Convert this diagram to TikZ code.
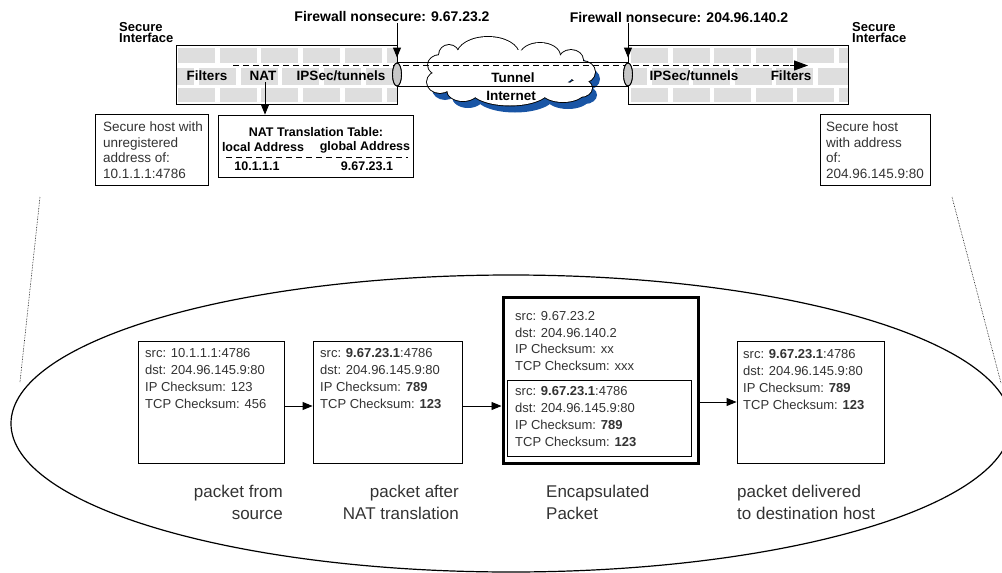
\documentclass[tikz,border=0pt]{standalone}
\usepackage{fontspec}
\setmainfont{Liberation Sans}
\usetikzlibrary{arrows.meta,shapes.geometric}
\definecolor{txtgray}{gray}{0.2}
\definecolor{brick}{gray}{0.87}
\definecolor{ellgray}{gray}{0.78}
\definecolor{cloudblue}{RGB}{25,85,165}
\begin{document}
\begin{tikzpicture}[x=1pt,y=-1pt,
  arr/.style={-{Triangle[length=10pt,width=8pt]}, line width=0.9pt},
  bigarr/.style={-{Triangle[length=14pt,width=10pt]}, line width=1.1pt},
  lbl/.style={font=\fontsize{14}{14}\selectfont\bfseries, inner sep=1pt},
  wlbl/.style={font=\fontsize{13.5}{13.5}\selectfont\bfseries, inner sep=1pt},
  tbl/.style={font=\fontsize{12.5}{12.5}\selectfont\bfseries, inner sep=1pt},
  sif/.style={font=\fontsize{13}{11.5}\selectfont\bfseries, align=left, inner sep=0pt, anchor=north west},
  hostbox/.style={draw, line width=0.8pt, fill=white, inner sep=0pt},
  hosttxt/.style={font=\fontsize{13.5}{15.5}\selectfont, text=txtgray, align=left, inner sep=0pt, anchor=north west},
  pbox/.style={draw, line width=0.9pt, fill=white, inner sep=0pt, minimum height=122pt},
  ptxt/.style={font=\fontsize{13}{17}\selectfont, text=txtgray, align=left, inner sep=0pt, anchor=north west},
  captxt/.style={font=\fontsize{17}{22}\selectfont, text=txtgray, inner sep=0pt},
  pipeend/.style={ellipse, draw, line width=0.9pt, fill=ellgray, minimum width=9pt, minimum height=23pt, inner sep=0pt}
]
\useasboundingbox (0,0) rectangle (1002,573);

% ---------- left wall ----------
\fill[white] (176,45) rectangle (397,104);
\begin{scope}
  \clip (176,45) rectangle (397,104);
  \foreach \i in {0,...,5} {
    \fill[brick] (178+\i*41.7,48) rectangle ++(37,15);
    \fill[brick] (178+\i*41.7,88) rectangle ++(37,13.5);
  }
  \foreach \i in {0,...,6} {
    \fill[brick] (157.2+\i*41.7,68) rectangle ++(37,17);
  }
\end{scope}
\draw[line width=0.9pt] (176,45) rectangle (397,104);

% ---------- right wall ----------
\fill[white] (628,45) rectangle (848,104);
\begin{scope}
  \clip (628,45) rectangle (848,104);
  \foreach \i in {0,...,5} {
    \fill[brick] (631+\i*41.5,48) rectangle ++(37,15);
    \fill[brick] (631+\i*41.5,88) rectangle ++(37,13.5);
  }
  \foreach \i in {0,...,6} {
    \fill[brick] (610+\i*41.5,68) rectangle ++(37,17);
  }
\end{scope}
\draw[line width=0.9pt] (628,45) rectangle (848,104);

% ---------- cloud (union of puffs) ----------
\def\puffs{449/55/10/10, 488/55/31/18, 540/56/20/13, 571/60/12/10,
  582/72/13/11, 580/88/12/9, 563/92/21/10, 510/89/40/16.5, 463/90/16/11,
  440/82/13/11, 440/65/12/10}
\foreach \cx/\cy/\rx/\ry in \puffs {
  \fill[cloudblue] (\cx+5,\cy+7) ellipse [x radius=\rx, y radius=\ry];
}
\fill[cloudblue] (515,79) ellipse [x radius=65, y radius=22];
\foreach \cx/\cy/\rx/\ry in \puffs {
  \draw[line width=1.8pt, fill=white] (\cx,\cy) ellipse [x radius=\rx, y radius=\ry];
}
\foreach \cx/\cy/\rx/\ry in \puffs {
  \fill[white] (\cx,\cy) ellipse [x radius=\rx, y radius=\ry];
}
\fill[white] (510,72) ellipse [x radius=65, y radius=22];

% ---------- tunnel pipe ----------
\node[pipeend] (le) at (397,74.5) {};
\node[pipeend] (re) at (628,74.5) {};
\draw[line width=0.9pt] (le.north) -- (re.north);
\draw[line width=0.9pt] (le.south) -- (re.south);
\coordinate (ds) at (233,65.5);
\coordinate (de) at (808,65.5);
\draw[line width=1.1pt, dash pattern=on 6pt off 4pt] (ds) -- (795,65.5);
\draw[bigarr] (790,65.5) -- (de);
\node[pipeend] at (le) {};
\node[pipeend] at (re) {};

\node[wlbl] (tun) at (513,78) {Tunnel};
\node[wlbl] (inet) at (511,96) {Internet};

% ---------- wall labels ----------
\node[wlbl] (fil1) at (207,76) {Filters};
\node[wlbl] (nat) at (263,76) {NAT};
\node[wlbl] (ips1) at (341,76) {IPSec/tunnels};
\node[wlbl] (ips2) at (694,76) {IPSec/tunnels};
\node[wlbl] (fil2) at (791,76) {Filters};

% ---------- top labels ----------
\node[lbl] (fw1) at (392,17) {Firewall nonsecure: 9.67.23.2};
\node[lbl] (fw2) at (679,17) {Firewall nonsecure: 204.96.140.2};
\draw[arr] (le |- fw1.south) -- ([yshift=5pt]le.north);
\draw[arr] (re |- fw2.south) -- ([yshift=5pt]re.north);

\node[sif] (si1) at (119,22) {Secure\\Interface};
\node[sif] (si2) at (852,22) {Secure\\Interface};

% ---------- NAT table ----------
\node[hostbox, minimum width=195pt, minimum height=62pt] (tab) at (315.5,146) {};
\draw[arr] ([xshift=2pt]nat.south) -- ([xshift=2pt]nat.south |- tab.north);
\node[tbl] (tabt) at (316,132) {NAT Translation Table:};
\node[tbl] (la) at (263,147) {local Address};
\node[tbl] (ga) at (365,147) {global Address};
\draw[line width=0.9pt, dash pattern=on 6pt off 4pt] (226,157) -- (408,157);
\node[tbl] (lv) at (257,166) {10.1.1.1};
\node[tbl] (gv) at (367,166) {9.67.23.1};

% ---------- host boxes ----------
\node[hostbox, minimum width=113pt, minimum height=71pt] (h1) at (151.5,149.5) {};
\node[hosttxt] (h1t) at (103,122) {Secure host with\\unregistered\\address of:\\10.1.1.1:4786};
\node[hostbox, minimum width=110pt, minimum height=71pt] (h2) at (875,149.5) {};
\node[hosttxt] (h2t) at (826,122) {Secure host\\with address\\of:\\204.96.145.9:80};

% ---------- zoom lines ----------
\coordinate (zl1) at (40,197);
\coordinate (zl2) at (20,382);
\coordinate (zr1) at (952,197);
\coordinate (zr2) at (1001,383);
\draw[densely dotted, line width=0.6pt] (zl1) -- (zl2);
\draw[densely dotted, line width=0.6pt] (zr1) -- (zr2);

% ---------- big ellipse ----------
\draw[line width=1.2pt] (511,423.5) ellipse [x radius=500, y radius=148.5];

% ---------- packets ----------
\node[pbox, minimum width=146pt] (p1) at (211,402) {};
\node[ptxt] (t1) at (145,348) {src: 10.1.1.1:4786\\dst: 204.96.145.9:80\\IP Checksum: 123\\TCP Checksum: 456};

\node[pbox, minimum width=149pt] (p2) at (387.5,402) {};
\node[ptxt] (t2) at (320,348) {src: \textbf{9.67.23.1}:4786\\dst: 204.96.145.9:80\\IP Checksum: \textbf{789}\\TCP Checksum: \textbf{123}};

\node[draw, line width=3pt, fill=white, inner sep=0pt, minimum width=195pt, minimum height=166pt] (p3) at (600.5,380) {};
\node[ptxt, font=\fontsize{13}{16.8}\selectfont] (t3o) at (515,311) {src: 9.67.23.2\\dst: 204.96.140.2\\IP Checksum: xx\\TCP Checksum: xxx};
\node[draw, line width=0.9pt, inner sep=0pt, minimum width=184pt, minimum height=76pt] (p3i) at (599,418) {};
\node[ptxt, font=\fontsize{13}{16.8}\selectfont] (t3i) at (515,386.5) {src: \textbf{9.67.23.1}:4786\\dst: 204.96.145.9:80\\IP Checksum: \textbf{789}\\TCP Checksum: \textbf{123}};

\node[pbox, minimum width=147pt] (p4) at (810.5,402) {};
\node[ptxt] (t4) at (743,349) {src: \textbf{9.67.23.1}:4786\\dst: 204.96.145.9:80\\IP Checksum: \textbf{789}\\TCP Checksum: \textbf{123}};

\draw[arr] ([yshift=-4pt]p1.east) -- ([yshift=-4pt]p1.east -| p2.west);
\draw[arr] ([yshift=-4pt]p2.east) -- ([yshift=-4pt]p2.east -| p3.west);
\draw[arr] (p3.east |- p4.west) -- (p4.west);

% ---------- captions ----------
\node[captxt, anchor=north east, align=right] (c1) at (283,485) {packet from\\source};
\node[captxt, anchor=north east, align=right] (c2) at (459,485) {packet after\\NAT translation};
\node[captxt, anchor=north west, align=left] (c3) at (546,485) {Encapsulated\\Packet};
\node[captxt, anchor=north west, align=left] (c4) at (737,485) {packet delivered\\to destination host};
\end{tikzpicture}
\end{document}
